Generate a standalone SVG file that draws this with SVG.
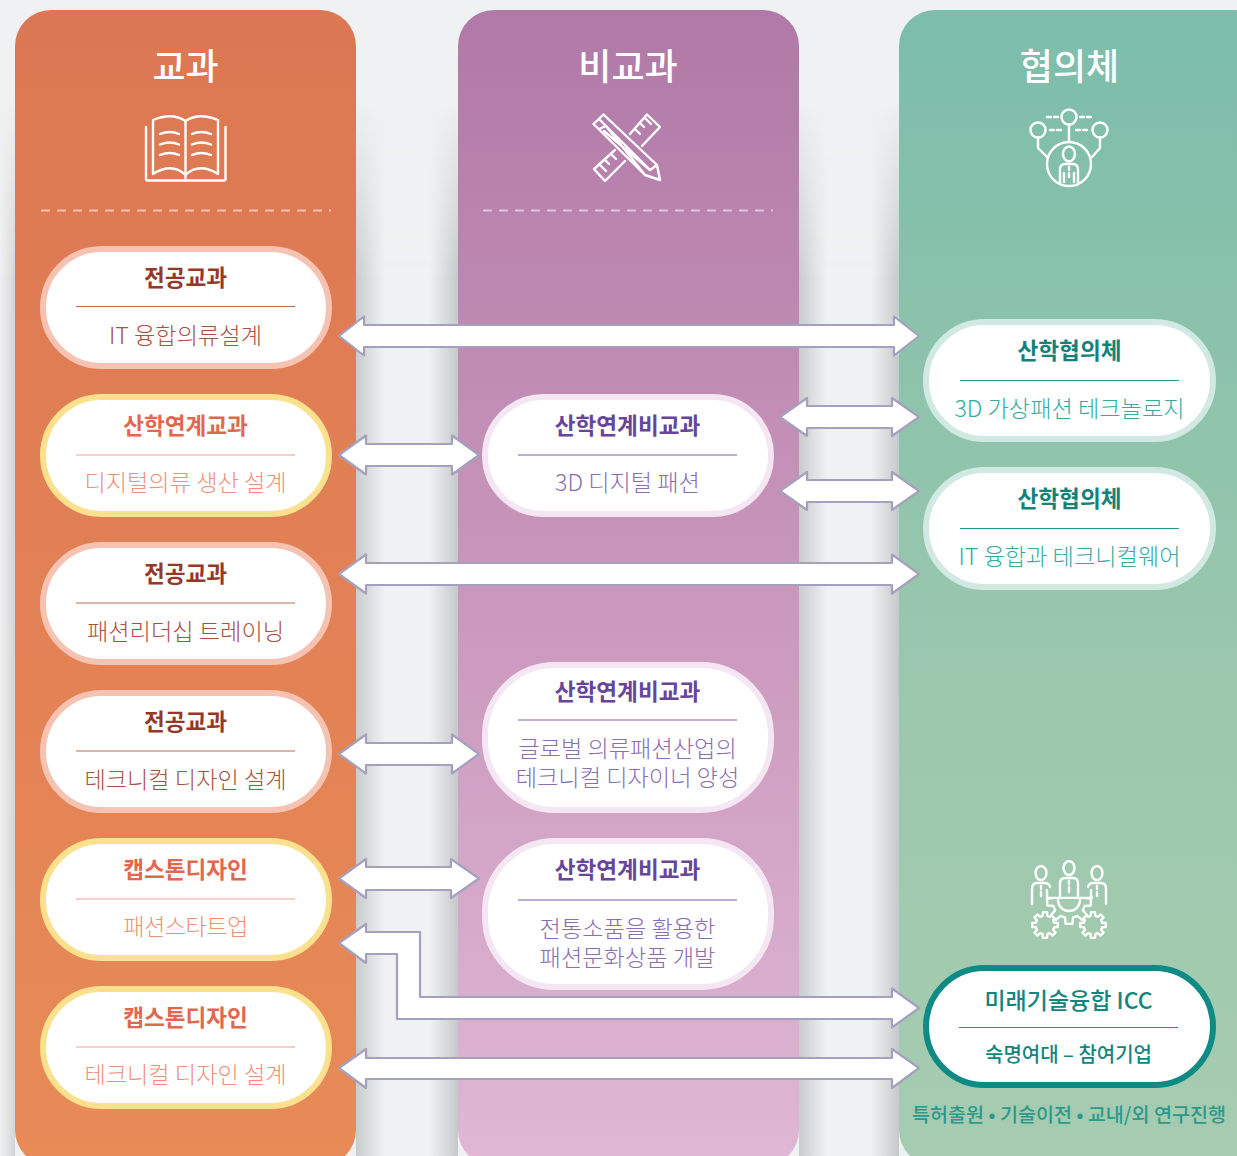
<svg xmlns="http://www.w3.org/2000/svg" xmlns:xlink="http://www.w3.org/1999/xlink" width="1237" height="1156" viewBox="0 0 1237 1156">
<style>
text{font-family:"Noto Sans CJK KR","Noto Sans",sans-serif;text-anchor:middle}
.head{font-size:36px;fill:#fff;font-weight:500}
.t{font-size:22.600px;font-weight:700}
.s{font-size:23.200px;font-weight:300}
.ic{fill:none;stroke:#fff;stroke-width:2.400;stroke-linecap:round;stroke-linejoin:round}
.dash{stroke:#fff;stroke-opacity:.55;stroke-width:2;stroke-dasharray:9 7}
.pill{fill:#fff;stroke-width:6}
.arrow{fill:#fff;stroke:#a5a0bd;stroke-width:2.200;stroke-linejoin:round}
.red .pill{stroke:#f6c3b3}.red .t{fill:#963828}.red .s{fill:#a9503f}.red line{stroke:#bb6a58}
.yel .pill{stroke:#fbe08d}.yel .t{fill:#e2674f}.yel .s{fill:#ef9178}.yel line{stroke:#efa38d}
.pur .pill{stroke:#f4e6f2}.pur .t{fill:#66459a}.pur .s{fill:#8a6db2}.pur line{stroke:#7a5ca6}
.grn .pill{stroke:#d2e9e3}.grn .t{fill:#12827a}.grn .s{fill:#36aaa0}.grn line{stroke:#249a8e}
.icc .pill{stroke:#0f8a84}.icc .t,.icc .s{fill:#12857e;font-weight:500}.icc .t{font-size:23px}.icc .s{font-size:20px}.icc line{stroke:#1f938c}
</style>
<defs>
<linearGradient id="go" x1="0" y1="0" x2="0" y2="1"><stop offset="0" stop-color="#dc7753"/><stop offset="1" stop-color="#e88b57"/></linearGradient>
<linearGradient id="gp" x1="0" y1="0" x2="0" y2="1"><stop offset="0" stop-color="#b079a7"/><stop offset=".45" stop-color="#c794b9"/><stop offset="1" stop-color="#e0b7d5"/></linearGradient>
<linearGradient id="gg" x1="0" y1="0" x2="0" y2="1"><stop offset="0" stop-color="#7cbdab"/><stop offset=".6" stop-color="#9cc8ad"/><stop offset="1" stop-color="#a6ccb1"/></linearGradient>
<linearGradient id="gap"><stop offset="0" stop-color="#c9cccd"/><stop offset=".28" stop-color="#f0f1f2"/><stop offset=".72" stop-color="#f0f1f2"/><stop offset="1" stop-color="#c6c9cb"/></linearGradient>
<linearGradient id="edge"><stop offset="0" stop-color="#f0f1f2"/><stop offset="1" stop-color="#d2d5d6"/></linearGradient>
<linearGradient id="fade" x1="0" y1="0" x2="0" y2="1"><stop offset="0" stop-color="#000"/><stop offset=".17" stop-color="#fff"/></linearGradient>
<mask id="m" maskUnits="userSpaceOnUse" x="0" y="100" width="1237" height="1056"><rect x="0" y="100" width="1237" height="1056" fill="url(#fade)"/></mask>
<clipPath id="below"><rect x="1020" y="899" width="100" height="50"/></clipPath>
<polygon id="gear" points="9.22,-2.3 12.84,-2.03 12.84,2.03 9.22,2.3 8.14,4.89 10.52,7.64 7.64,10.52 4.89,8.14 2.3,9.22 2.03,12.84 -2.03,12.84 -2.3,9.22 -4.89,8.14 -7.64,10.52 -10.52,7.64 -8.14,4.89 -9.22,2.3 -12.84,2.03 -12.84,-2.03 -9.22,-2.3 -8.14,-4.89 -10.52,-7.64 -7.64,-10.52 -4.89,-8.14 -2.3,-9.22 -2.03,-12.84 2.03,-12.84 2.3,-9.22 4.89,-8.14 7.64,-10.52 10.52,-7.64 8.14,-4.89"/>
<path id="person" d="M-9 17V5Q-9-1-4-1H4Q9-1 9 5V17M-5 8V17M5 8V17M0 2V5M0 8V12"/>
</defs>
<rect width="1237" height="1156" fill="#f0f1f2"/>
<g id="background-gaps" mask="url(#m)">
<rect x="356" y="100" width="102" height="1056" fill="url(#gap)"/>
<rect x="799" y="100" width="100" height="1056" fill="url(#gap)"/>
<rect x="0" y="100" width="15" height="1056" fill="url(#edge)"/>
</g>
<g id="column-curriculum">
<rect x="15" y="10" width="341" height="1156" rx="36" fill="url(#go)"/>
<text class="head" x="185.500" y="80">교과</text>
<g class="ic">
<path d="M146 127V179Q146 180.500 147.500 180.500H224Q225.500 180.500 225.500 179V127"/>
<path d="M153 174V120Q172 112 185.500 121V179M218 174V120Q199 112 185.500 121M153 174Q172 162 185.500 175Q199 162 218 174"/>
<path d="M160 134Q170 130 179 134M160 144.500Q170 140.500 179 144.500M160 155Q170 151 179 155M192 134Q201 130 211 134M192 144.500Q201 140.500 211 144.500M192 155Q201 151 211 155"/>
</g>
<line class="dash" x1="41" y1="210.500" x2="331" y2="210.500"/>
</g>
<g id="column-extra">
<rect x="458" y="10" width="341" height="1156" rx="36" fill="url(#gp)"/>
<text class="head" x="628" y="80">비교과</text>
<g class="ic">
<path d="M593.500 124L603.500 114.500L657 165L660 180L645 175ZM599 119L606 126L650 170M604 131L650 170M606 126L645 175M599 129L606 126M657 165L650 170"/>
<path d="M630 134L647 114.500L660 127L642 146M635 129L640 134M640 123L644 127M645 118L651 124M625 161L605 181L594 169L615 150M611 154L616 159M605 160L609 164M600 165L606 171"/>
</g>
<line class="dash" x1="483" y1="210.500" x2="773" y2="210.500"/>
</g>
<g id="column-council">
<rect x="899" y="10" width="370" height="1156" rx="36" fill="url(#gg)"/>
<text class="head" x="1069.500" y="80">협의체</text>
<g class="ic">
<circle cx="1069" cy="117" r="7.500"/><circle cx="1038" cy="130" r="7.500"/><circle cx="1100" cy="130" r="7.500"/>
<circle cx="1069" cy="164" r="22"/>
<path d="M1069 124.500V142M1038 137.500V148L1047 157M1100 137.500V148L1092 157"/>
<path d="M1047 117H1058M1080 117H1092M1050 130H1062M1076 130H1088" stroke-dasharray="4 3"/>
<ellipse cx="1069" cy="154" rx="6" ry="7.500"/>
<use xlink:href="#person" href="#person" x="1069" y="165"/>
</g>
<g class="ic">
<ellipse cx="1041" cy="873" rx="5.500" ry="7"/><ellipse cx="1069" cy="868" rx="5.500" ry="7"/><ellipse cx="1097" cy="873" rx="5.500" ry="7"/>
<path d="M1032 904V889Q1032 883 1037 883H1045Q1049 883 1050 887M1041 886V889M1041 892V896M1047 890V898"/>
<path d="M1060 896V884Q1060 878 1065 878H1073Q1078 878 1078 884V896M1069 881V884M1069 887V892"/>
<path d="M1106 904V889Q1106 883 1101 883H1093Q1089 883 1088 887M1097 886V889M1097 892V896M1091 890V898"/>
<path d="M1047 898H1092"/>
<use xlink:href="#gear" href="#gear" transform="translate(1045 925)"/>
<use xlink:href="#gear" href="#gear" transform="translate(1093 925)"/>
<g clip-path="url(#below)"><use xlink:href="#gear" href="#gear" transform="translate(1069 902) scale(1.7)" fill="#a2cbb0" stroke-width="1.400"/></g>
<path d="M1058 900A11 11 0 0 0 1080 900"/>
</g>
</g>
<g id="connectors">
<path class="arrow" d="M339 336L364 316.500V325H894V316.500L919 336L894 355.500V347H364V355.500Z"/>
<path class="arrow" d="M339 455L366 435.500V444H452V435.500L479 455L452 474.500V466H366V474.500Z"/>
<path class="arrow" d="M780 417L807 398V406H892V398L919 417L892 436V428H807V436Z"/>
<path class="arrow" d="M780 491L807 472V480H892V472L919 491L892 510V502H807V510Z"/>
<path class="arrow" d="M339 574L366 554.500V563H892V554.500L919 574L892 593.500V585H366V593.500Z"/>
<path class="arrow" d="M339 754L366 734.500V743H452V734.500L479 754L452 773.500V765H366V773.500Z"/>
<path class="arrow" d="M339 878.500L366 859V867H451V859L479 878.500L451 898V890H366V898Z"/>
<path class="arrow" d="M339 943L366 924V932H420V997H892V988.500L919 1008L892 1027.500V1019H397V954H366V963Z"/>
<path class="arrow" d="M339 1068L366 1049V1058H892V1049L919 1068L892 1088V1079H366V1088Z"/>
</g>
<g id="n1" class="red"><rect class="pill" x="43" y="249" width="286" height="117" rx="58.500"/><text class="t" x="185.500" y="286">전공교과</text><line x1="76" y1="306.500" x2="295" y2="306.500"/><text class="s" x="185.500" y="344">IT 융합의류설계</text></g>
<g id="n2" class="yel"><rect class="pill" x="43" y="397" width="286" height="117" rx="58.500"/><text class="t" x="185.500" y="434">산학연계교과</text><line x1="76" y1="455" x2="295" y2="455"/><text class="s" x="185.500" y="491">디지털의류 생산 설계</text></g>
<g id="n3" class="red"><rect class="pill" x="43" y="545" width="286" height="117" rx="58.500"/><text class="t" x="185.500" y="582">전공교과</text><line x1="76" y1="603" x2="295" y2="603"/><text class="s" x="185.500" y="640">패션리더십 트레이닝</text></g>
<g id="n4" class="red"><rect class="pill" x="43" y="693" width="286" height="117" rx="58.500"/><text class="t" x="185.500" y="730">전공교과</text><line x1="76" y1="751" x2="295" y2="751"/><text class="s" x="185.500" y="788">테크니컬 디자인 설계</text></g>
<g id="n5" class="yel"><rect class="pill" x="43" y="841" width="286" height="117" rx="58.500"/><text class="t" x="185.500" y="878">캡스톤디자인</text><line x1="76" y1="899" x2="295" y2="899"/><text class="s" x="185.500" y="935" style="letter-spacing:-.6px">패션스타트업</text></g>
<g id="n6" class="yel"><rect class="pill" x="43" y="989" width="286" height="117" rx="58.500"/><text class="t" x="185.500" y="1026">캡스톤디자인</text><line x1="76" y1="1047" x2="295" y2="1047"/><text class="s" x="185.500" y="1083">테크니컬 디자인 설계</text></g>
<g id="n7" class="pur"><rect class="pill" x="485" y="397" width="286" height="117" rx="58.500"/><text class="t" x="627.500" y="434">산학연계비교과</text><line x1="518" y1="455" x2="737" y2="455"/><text class="s" x="627.500" y="491">3D 디지털 패션</text></g>
<g id="n8" class="pur"><rect class="pill" x="485" y="665" width="286" height="145" rx="70"/><text class="t" x="627.500" y="700">산학연계비교과</text><line x1="518" y1="720" x2="737" y2="720"/><text class="s" x="627.500" y="757">글로벌 의류패션산업의<tspan x="627.500" dy="29">테크니컬 디자이너 양성</tspan></text></g>
<g id="n9" class="pur"><rect class="pill" x="485" y="841" width="286" height="146" rx="70"/><text class="t" x="627.500" y="878">산학연계비교과</text><line x1="518" y1="900" x2="737" y2="900"/><text class="s" x="627.500" y="937">전통소품을 활용한<tspan x="627.500" dy="29">패션문화상품 개발</tspan></text></g>
<g id="n10" class="grn"><rect class="pill" x="926" y="322" width="287" height="117" rx="58.500"/><text class="t" x="1069.500" y="359">산학협의체</text><line x1="960" y1="380.500" x2="1179" y2="380.500"/><text class="s" x="1069.500" y="417">3D 가상패션 테크놀로지</text></g>
<g id="n11" class="grn"><rect class="pill" x="926" y="470" width="287" height="117" rx="58.500"/><text class="t" x="1069.500" y="507">산학협의체</text><line x1="960" y1="528.500" x2="1179" y2="528.500"/><text class="s" x="1069.500" y="565">IT 융합과 테크니컬웨어</text></g>
<g id="n12" class="icc"><rect class="pill" x="926" y="968" width="287" height="117" rx="58.500"/><text class="t" x="1068.500" y="1009">미래기술융합 ICC</text><line x1="959" y1="1027.500" x2="1178" y2="1027.500"/><text class="s" x="1068.500" y="1062">숙명여대 – 참여기업</text></g>
<text id="note" x="1069" y="1122" style="font-size:19.600px;font-weight:500;fill:#2b9a8c">특허출원 • 기술이전 • 교내/외 연구진행</text>
</svg>
